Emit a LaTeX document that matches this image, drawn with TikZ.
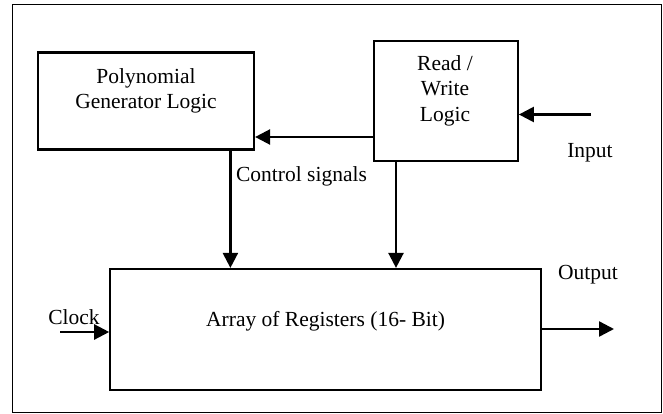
\documentclass[tikz,border=0pt]{standalone}
\usepackage{fontspec}
\setmainfont{Liberation Serif}
\usetikzlibrary{arrows.meta}
\begin{document}
\begin{tikzpicture}[x=1pt,y=-1pt,
  blk/.style={draw,line width=2.2pt,inner sep=0pt},
  conn/.style={line width=2.4pt,-{Triangle[length=15pt,width=15pt]}},
  lbl/.style={font=\fontsize{21.5}{25.5}\selectfont,inner sep=0pt,align=center}]
\useasboundingbox (0,0) rectangle (663,414);
\draw[line width=1.6pt] (12.5,4.5) rectangle (661.5,412.5);
% boxes
\node[blk,minimum width=216pt,minimum height=97pt] (poly) at (146,101) {};
\node[blk,minimum width=144pt,minimum height=120pt] (rw) at (445.8,101) {};
\node[blk,minimum width=431pt,minimum height=121pt] (arr) at (325.8,329.5) {};
% texts
\node[lbl,anchor=base] (polyt) at (146,109) {Polynomial\\Generator Logic};
\node[lbl,anchor=base] (rwt) at (445,121.5) {Read /\\Write\\Logic};
\node[lbl,anchor=base] (arrt) at (325.6,326.5) {Array of Registers (16- Bit)};
\node[lbl,anchor=base] (ctl) at (301.5,181.5) {Control signals};
\node[lbl,anchor=base] (inl) at (590,157.5) {Input};
\node[lbl,anchor=base] (outl) at (588,279) {Output};
\node[lbl,anchor=base] (clkl) at (74,324.5) {Clock};
% coordinates for free ends
\coordinate (inS) at (591,114.5);
\coordinate (clkS) at (60,332);
\coordinate (outE) at (614,329);
% connectors
\draw[conn] (rw.west |- 0,137) -- (poly.east |- 0,137);
\draw[conn] (230.4,0 |- poly.south) -- (230.4,0 |- arr.north);
\draw[conn] (396,0 |- rw.south) -- (396,0 |- arr.north);
\draw[conn] (inS) -- (inS -| rw.east);
\draw[conn] (clkS) -- (clkS -| arr.west);
\draw[conn] (outE -| arr.east) -- (outE);
\end{tikzpicture}
\end{document}
